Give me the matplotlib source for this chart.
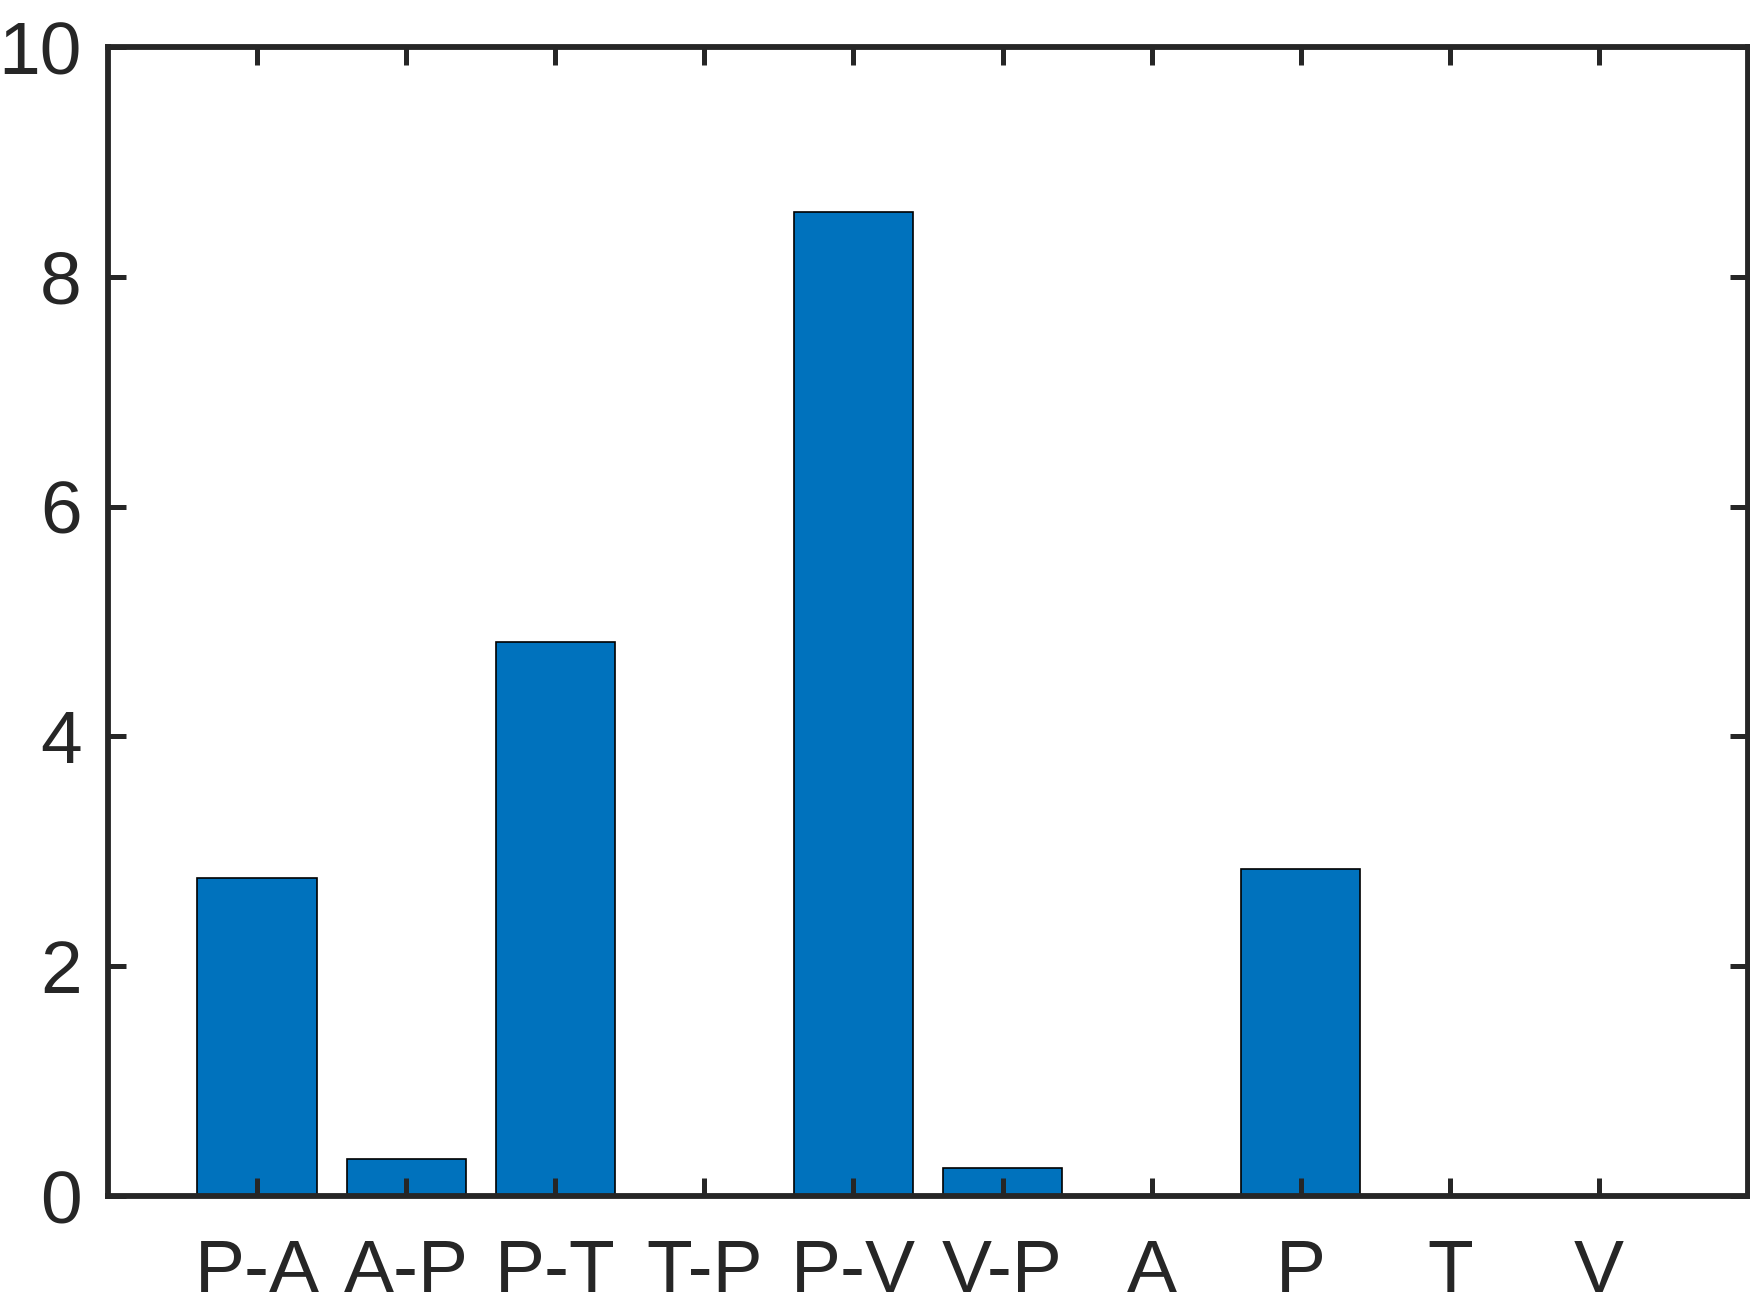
import numpy as np
import matplotlib.pyplot as plt

# data
categories = ['P-A', 'A-P', 'P-T', 'T-P', 'P-V', 'V-P', 'A', 'P', 'T', 'V']
values = [2.77, 0.32, 4.82, 0.0, 8.56, 0.24, 0.0, 2.85, 0.0, 0.0]

plt.rcParams['font.family'] = ['Liberation Sans', 'DejaVu Sans']

fig = plt.figure(figsize=(17.5, 13.13), dpi=100)
ax = fig.add_axes([0.0617, 0.0891, 0.9372, 0.8751])

# bars
x = np.arange(1, len(categories) + 1)
ax.bar(x, values, width=0.8, color='#0072BD', edgecolor='black', linewidth=1.2, zorder=1)

# axes setup
ax.set_xlim(0, 11)
ax.set_ylim(0, 10)
ax.set_xticks(x)
ax.set_xticklabels(categories)
ax.set_yticks([0, 2, 4, 6, 8, 10])

dark = '#262626'
for s in ax.spines.values():
    s.set_linewidth(4.2)
    s.set_color(dark)
    s.set_zorder(3)

ax.tick_params(direction='in', length=13, width=3.6, color=dark,
               labelcolor=dark, labelsize=54, top=True, right=True)
ax.tick_params(axis='x', pad=30)
ax.tick_params(axis='y', pad=19)

fig.savefig('out.png', dpi=100)
